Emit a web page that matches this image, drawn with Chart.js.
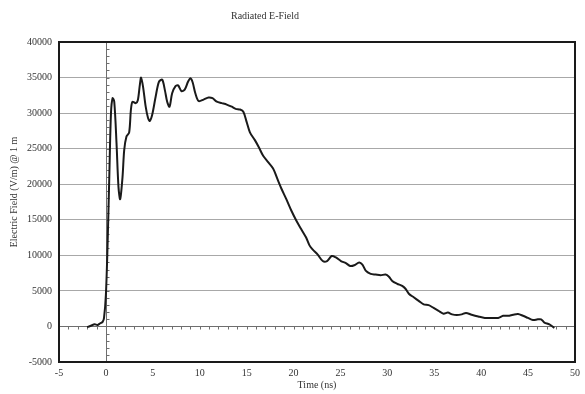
<!DOCTYPE html>
<html><head><meta charset="utf-8">
<script src="https://cdn.jsdelivr.net/npm/chart.js@4"></script>
<style>html,body{margin:0;padding:0;background:#fff}#wrap{width:585px;height:394px}</style>
</head><body><div id="wrap"><canvas id="c" width="585" height="394"></canvas></div>
<script>
const chartTitle = 'Radiated E-Field';
const xAxisTitle = 'Time (ns)';
const yAxisTitle = 'Electric Field (V/m) @ 1 m';

const timeNs = [-2.0,-1.6,-1.2,-0.9,-0.6,-0.35,-0.2,0.0,0.18,0.36,0.54,0.71,0.89,1.13,1.34,1.52,1.77,1.95,2.19,2.48,2.66,2.83,3.19,3.40,3.61,3.75,3.96,4.24,4.49,4.68,4.94,5.30,5.65,6.0,6.29,6.53,6.78,7.06,7.42,7.69,8.05,8.40,8.75,9.01,9.25,9.53,9.88,10.41,10.94,11.36,11.82,12.35,12.88,13.41,13.83,14.30,14.65,14.99,15.35,15.88,16.3,16.76,17.29,17.82,18.35,18.70,19.23,19.76,20.29,20.81,21.34,21.70,22.05,22.58,23.11,23.57,24.06,24.52,25.05,25.58,26.04,26.47,27.0,27.34,27.69,28.22,28.75,29.28,29.81,30.17,30.52,31.05,31.58,31.93,32.29,32.81,33.34,33.87,34.40,34.93,35.46,35.99,36.45,36.9,37.40,37.93,38.38,38.98,39.69,40.39,41.10,41.81,42.34,42.87,43.40,43.93,44.45,44.98,45.51,46.04,46.39,46.74,47.27,47.8];
const fieldVm = [-100,100,300,200,450,650,1200,4500,11600,21000,30000,32100,31600,25800,19600,17900,21000,24800,26700,27300,30400,31600,31400,31800,33900,35000,33700,30900,29300,28900,29800,32300,34400,34700,33200,31600,30900,32800,33800,33900,33100,33300,34400,34900,34300,32800,31700,31900,32200,32100,31600,31400,31200,30900,30600,30500,30200,28800,27300,26200,25200,24000,23100,22200,20500,19400,17900,16300,14900,13700,12500,11400,10800,10100,9200,9200,9900,9700,9200,8900,8500,8600,9000,8700,7850,7400,7300,7200,7300,7000,6400,6000,5700,5300,4600,4100,3600,3100,3000,2600,2200,1800,1950,1700,1600,1700,1900,1650,1400,1200,1200,1200,1500,1500,1650,1750,1500,1200,900,1000,1000,550,300,-200];

const xMin = -5, xMax = 50, xStep = 5;
const yMin = -5000, yMax = 40000, yStep = 5000;
const xMinorStep = 1, yMinorStep = 1000;

const FONT = 'Liberation Serif, Times New Roman, serif';
const TXT = '#333333';

const points = timeNs.map((t, i) => ({x: t, y: fieldVm[i]}));

const decor = {
  id: 'decor',
  beforeDatasetsDraw(chart) {
    const {ctx, chartArea: a, scales: {x, y}} = chart;
    ctx.save();
    ctx.strokeStyle = '#6e6e6e';
    ctx.lineWidth = 1;
    const x0 = Math.round(x.getPixelForValue(0)) + 0.5;
    const y0 = Math.round(y.getPixelForValue(0)) + 0.5;
    ctx.beginPath();
    ctx.moveTo(x0, a.top); ctx.lineTo(x0, a.bottom);
    ctx.moveTo(a.left, y0); ctx.lineTo(a.right, y0);
    for (let v = yMin; v <= yMax; v += yMinorStep) {
      const py = Math.round(y.getPixelForValue(v)) + 0.5;
      ctx.moveTo(x0, py); ctx.lineTo(x0 + 3, py);
    }
    for (let t = xMin; t <= xMax; t += xMinorStep) {
      const px = Math.round(x.getPixelForValue(t)) + 0.5;
      ctx.moveTo(px, y0); ctx.lineTo(px, y0 + 3);
    }
    ctx.stroke();
    ctx.restore();
  },
  afterDraw(chart) {
    const {ctx, chartArea: a} = chart;
    ctx.save();
    ctx.strokeStyle = '#1a1a1a';
    ctx.lineWidth = 2;
    ctx.strokeRect(a.left, a.top, a.right - a.left, a.bottom - a.top);
    ctx.fillStyle = TXT;
    ctx.font = '10px ' + FONT;
    ctx.textAlign = 'center';
    ctx.textBaseline = 'middle';
    ctx.fillText(chartTitle, 265, 16);
    ctx.fillText(xAxisTitle, (a.left + a.right) / 2, 385);
    ctx.translate(14, 192);
    ctx.rotate(-Math.PI / 2);
    ctx.fillText(yAxisTitle, 0, 0);
    ctx.restore();
  }
};

new Chart(document.getElementById('c'), {
  type: 'line',
  data: { datasets: [{
    data: points,
    borderColor: '#1a1a1a',
    borderWidth: 2,
    pointRadius: 0,
    tension: 0.3,
    fill: false
  }]},
  options: {
    responsive: false,
    animation: false,
    devicePixelRatio: 1,
    layout: { padding: { top: 42, right: 6, left: 0, bottom: 0 } },
    plugins: { legend: { display: false }, title: { display: false }, tooltip: { enabled: false } },
    scales: {
      x: {
        type: 'linear', min: xMin, max: xMax,
        ticks: { stepSize: xStep, color: TXT, font: { family: FONT, size: 10 }, padding: 5, maxRotation: 0,
                 callback: v => String(v) },
        grid: { display: false, drawTicks: false },
        border: { display: false },
        afterFit(s) { s.height = 32; }
      },
      y: {
        type: 'linear', min: yMin, max: yMax,
        ticks: { stepSize: yStep, color: TXT, font: { family: FONT, size: 10 }, padding: 7,
                 callback: v => String(v) },
        grid: { color: '#a8a8a8', lineWidth: 1, drawTicks: false },
        border: { display: false },
        afterFit(s) { s.width = 59; }
      }
    }
  },
  plugins: [decor]
});
</script>
</body></html>
